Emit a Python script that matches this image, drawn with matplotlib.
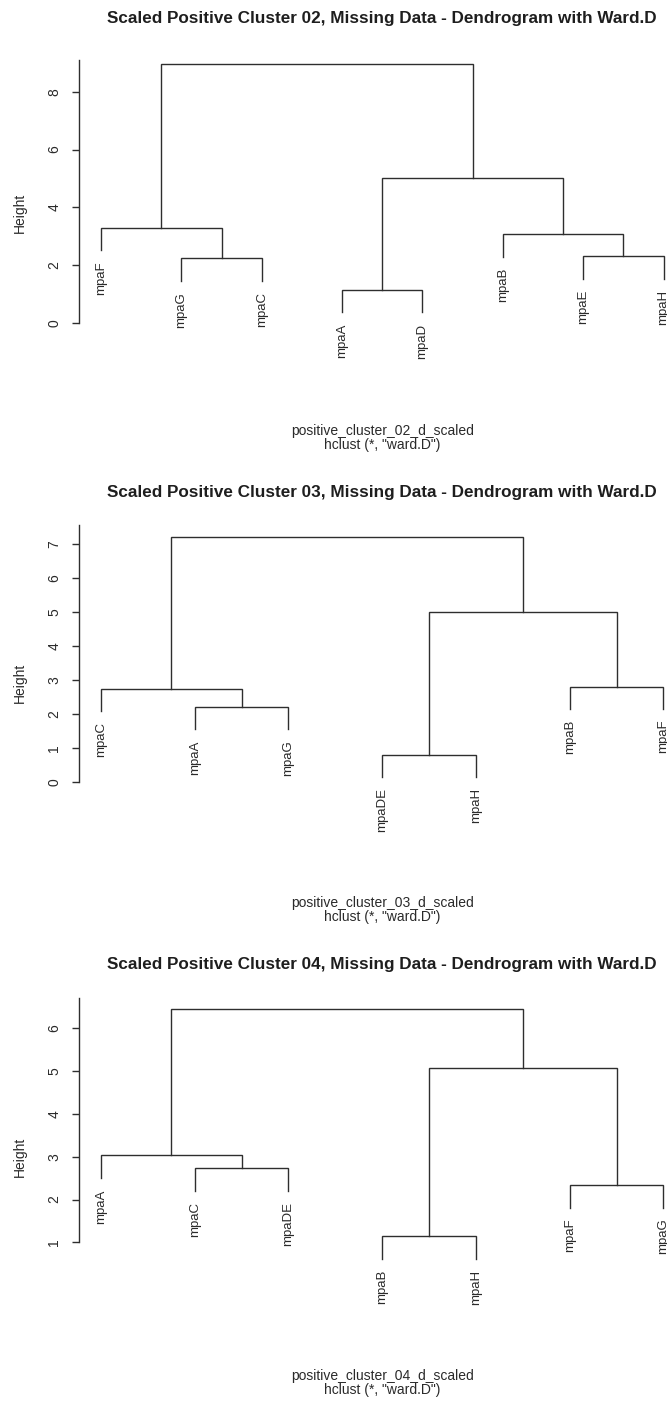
import matplotlib
matplotlib.use("Agg")
import matplotlib.pyplot as plt

plt.rcParams['font.family'] = ['Liberation Sans', 'DejaVu Sans']

# ---------------- data ----------------
# leaves listed in plotted order; merges: negative = leaf position (1-based), positive = earlier merge step
c02_title = "Scaled Positive Cluster 02, Missing Data - Dendrogram with Ward.D"
c02_xlab = "positive_cluster_02_d_scaled"
c02_leaves = ['mpaF', 'mpaG', 'mpaC', 'mpaA', 'mpaD', 'mpaB', 'mpaE', 'mpaH']
c02_merge = [(-4, -5), (-2, -3), (-7, -8), (-6, 3), (-1, 2), (1, 4), (5, 6)]
c02_height = [1.15, 2.24, 2.32, 3.07, 3.30, 5.02, 8.96]
c02_ticks = [0, 2, 4, 6, 8]

c03_title = "Scaled Positive Cluster 03, Missing Data - Dendrogram with Ward.D"
c03_xlab = "positive_cluster_03_d_scaled"
c03_leaves = ['mpaC', 'mpaA', 'mpaG', 'mpaDE', 'mpaH', 'mpaB', 'mpaF']
c03_merge = [(-4, -5), (-2, -3), (-1, 2), (-6, -7), (1, 4), (3, 5)]
c03_height = [0.78, 2.19, 2.74, 2.80, 5.01, 7.23]
c03_ticks = [0, 1, 2, 3, 4, 5, 6, 7]

c04_title = "Scaled Positive Cluster 04, Missing Data - Dendrogram with Ward.D"
c04_xlab = "positive_cluster_04_d_scaled"
c04_leaves = ['mpaA', 'mpaC', 'mpaDE', 'mpaB', 'mpaH', 'mpaF', 'mpaG']
c04_merge = [(-4, -5), (-6, -7), (-2, -3), (-1, 3), (1, 2), (4, 5)]
c04_height = [1.15, 2.34, 2.73, 3.03, 5.07, 6.44]
c04_ticks = [1, 2, 3, 4, 5, 6]

sub_text = 'hclust (*, "ward.D")'

# ---------------- layout (pixels) ----------------
W, H = 667, 1401
DPI = 100
LINE = '#2e2e2e'
TXT = '#2a2a2a'
AX_LEFT, AX_RIGHT = 78.5, 686.0

panels = [
    dict(title=c02_title, xlab=c02_xlab, leaves=c02_leaves, merge=c02_merge, height=c02_height,
         ticks=c02_ticks, ylim=(-0.3, 9.1), top=60.0, bottom=331.7,
         title_y=19, xlab_y=431, sub_y=445, ylab_y=213),
    dict(title=c03_title, xlab=c03_xlab, leaves=c03_leaves, merge=c03_merge, height=c03_height,
         ticks=c03_ticks, ylim=(-0.3, 7.57), top=525.1, bottom=791.9,
         title_y=492, xlab_y=903, sub_y=917, ylab_y=683),
    dict(title=c04_title, xlab=c04_xlab, leaves=c04_leaves, merge=c04_merge, height=c04_height,
         ticks=c04_ticks, ylim=(0.8, 6.72), top=997.5, bottom=1250.9,
         title_y=964, xlab_y=1376, sub_y=1390, ylab_y=1157),
]

fig = plt.figure(figsize=(W / DPI, H / DPI), dpi=DPI)
fig.patch.set_facecolor('white')


def draw_dendro(ax, leaves, merge, height):
    n = len(leaves)
    hang = 0.1 * (max(height) - min(height))
    centers = {}
    leaf_bottom = {}
    for k, ((a, b), h) in enumerate(zip(merge, height), start=1):
        pts = []
        for c in (a, b):
            if c < 0:
                x = -c
                y = h - hang
                leaf_bottom[x] = y
            else:
                x, y = centers[c]
            pts.append((x, y))
        (x1, y1), (x2, y2) = pts
        ax.plot([x1, x1, x2, x2], [y1, h, h, y2], color=LINE, lw=1.0,
                solid_joinstyle='miter', clip_on=False)
        centers[k] = ((x1 + x2) / 2.0, h)
    for i, lab in enumerate(leaves, start=1):
        ax.annotate(lab, xy=(i, leaf_bottom[i]), xytext=(0, -8), textcoords='offset points',
                    rotation=90, ha='center', va='top', fontsize=9.5, color=TXT,
                    annotation_clip=False)
    pad = 0.04 * (n - 1)
    ax.set_xlim(1 - pad, n + pad)


for p in panels:
    rect = [AX_LEFT / W, 1 - p['bottom'] / H, (AX_RIGHT - AX_LEFT) / W, (p['bottom'] - p['top']) / H]
    ax = fig.add_axes(rect)
    ax.set_facecolor('none')
    draw_dendro(ax, p['leaves'], p['merge'], p['height'])
    ax.set_ylim(*p['ylim'])
    for s in ('top', 'right', 'bottom'):
        ax.spines[s].set_visible(False)
    ax.spines['left'].set_bounds(p['ticks'][0], p['ylim'][1])
    ax.spines['left'].set_color(LINE)
    ax.spines['left'].set_linewidth(1.0)
    ax.set_xticks([])
    ax.set_yticks(p['ticks'])
    ax.set_yticklabels([str(t) for t in p['ticks']])
    ax.tick_params(axis='y', direction='out', length=5, width=1.0, color=LINE,
                   labelsize=10, labelcolor=TXT, pad=12.5)
    for lab in ax.get_yticklabels():
        lab.set_rotation(90)
        lab.set_ha('center')
        lab.set_va('center')
    cx = (AX_LEFT + AX_RIGHT) / 2.0 / W
    fig.text(cx, 1 - p['title_y'] / H, p['title'], ha='center', va='center',
             fontsize=12.3, fontweight='bold', color='#1e1e1e')
    fig.text(cx, 1 - p['xlab_y'] / H, p['xlab'], ha='center', va='center', fontsize=10, color=TXT)
    fig.text(cx, 1 - p['sub_y'] / H, sub_text, ha='center', va='center', fontsize=10, color=TXT)
    fig.text(20 / W, 1 - p['ylab_y'] / H, 'Height', ha='center', va='center', rotation=90,
             fontsize=10, color=TXT)

fig.savefig('out.png', dpi=DPI, facecolor='white')
